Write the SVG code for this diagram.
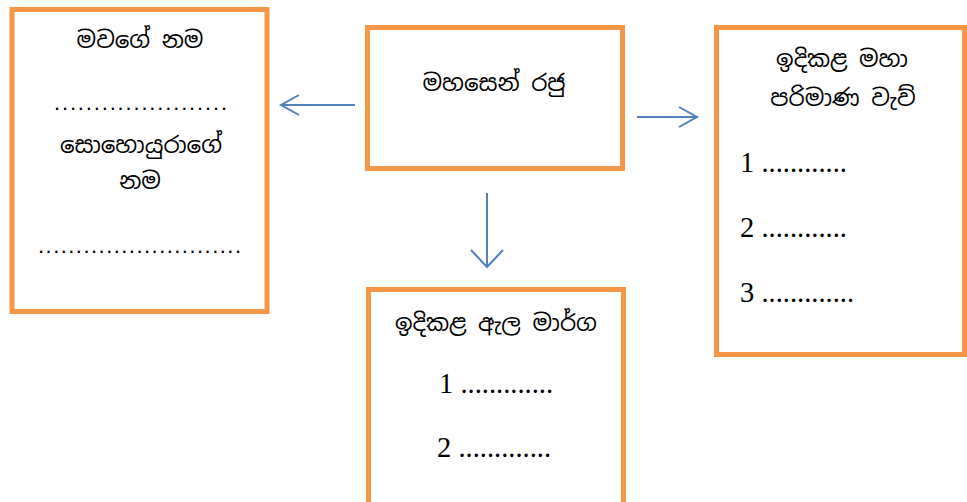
<svg xmlns="http://www.w3.org/2000/svg" width="967" height="502" viewBox="0 0 967 502">
<style>
.box{fill:#fff;stroke:#F79646;stroke-width:5}
.si{font-family:"Noto Sans Sinhala","Noto Serif Sinhala","Iskoola Pota","Lohit Sinhala","Noto Sans",sans-serif;font-size:23px;fill:#000;text-anchor:middle}
.num{font-family:"Liberation Serif",serif;font-size:28.5px;fill:#000}
.dots{font-family:"Liberation Sans",sans-serif;font-size:22px;fill:#000}
.conn{fill:none;stroke:#4F81BD;stroke-width:2}
</style>
<rect width="967" height="502" fill="#fff"/>
<g id="mother">
<rect class="box" x="12" y="9.5" width="255" height="302"/>
<text class="si" x="140" y="48">මවගේ නම</text>
<text class="dots" x="54" y="110" textLength="173" lengthAdjust="spacing">......................</text>
<text class="si" x="141" y="153">සොහොයුරාගේ</text>
<text class="si" x="140" y="189">නම</text>
<text class="dots" x="38" y="253" textLength="203" lengthAdjust="spacing">...........................</text>
</g>
<g id="mahasen">
<rect class="box" x="367.5" y="27.5" width="255" height="141"/>
<text class="si" x="494" y="91">මහසෙන් රජු</text>
</g>
<g id="tanks">
<rect class="box" x="716.5" y="27.5" width="248" height="327"/>
<text class="si" x="842" y="67">ඉදිකළ මහා</text>
<text class="si" x="843" y="106">පරිමාණ වැව්</text>
<text class="num" x="740" y="172">1 ............</text>
<text class="num" x="740" y="237">2 ............</text>
<text class="num" x="740" y="302">3 .............</text>
</g>
<g id="canals">
<rect class="box" x="368.5" y="289.5" width="255" height="240"/>
<text class="si" x="496" y="331">ඉදිකළ ඇල මාර්ග</text>
<text class="num" x="439" y="393">1 .............</text>
<text class="num" x="437" y="457">2 .............</text>
</g>
<g id="connectors">
<path class="conn" d="M355 105H281M299 95L281 105L299 115"/>
<path class="conn" d="M637 117H697M679 107L697 117L679 127"/>
<path class="conn" d="M487 193V267M471 250L487 267L503 250"/>
</g>
</svg>
